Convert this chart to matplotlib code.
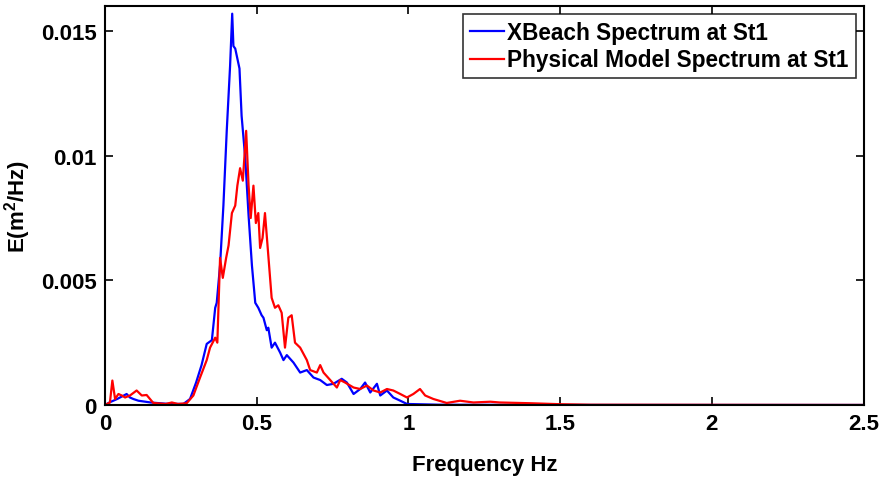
import numpy as np
import matplotlib
matplotlib.use("Agg")
import matplotlib.pyplot as plt
from matplotlib.ticker import FixedLocator, FixedFormatter

# XBeach spectrum at St1
f_xb = [0.000, 0.016, 0.040, 0.071, 0.082, 0.093, 0.110, 0.150, 0.200, 0.258,
        0.280, 0.300, 0.318, 0.335, 0.352, 0.363, 0.368, 0.379, 0.390, 0.401,
        0.412, 0.419, 0.423, 0.429, 0.443, 0.450, 0.462, 0.473, 0.484, 0.495,
        0.505, 0.516, 0.522, 0.533, 0.538, 0.549, 0.560, 0.577, 0.588, 0.599,
        0.621, 0.643, 0.665, 0.687, 0.709, 0.731, 0.753, 0.780, 0.797, 0.819,
        0.841, 0.857, 0.874, 0.896, 0.907, 0.929, 0.950, 0.973, 0.995, 1.100,
        1.500, 2.500]
E_xb = [0.0, 0.00011, 0.00024, 0.00044, 0.00030, 0.00024, 0.00017, 0.00010, 0.00005, 0.00004,
        0.00024, 0.00090, 0.00160, 0.00245, 0.00260, 0.00390, 0.00410, 0.00560, 0.00800, 0.01100,
        0.01360, 0.01570, 0.01440, 0.01430, 0.01350, 0.01160, 0.00990, 0.00760, 0.00560, 0.00410,
        0.00390, 0.00360, 0.00350, 0.00300, 0.00310, 0.00230, 0.00250, 0.00210, 0.00180, 0.00200,
        0.00170, 0.00130, 0.00140, 0.00110, 0.00100, 0.00080, 0.00085, 0.00105, 0.00090, 0.00044,
        0.00064, 0.00090, 0.00050, 0.00085, 0.00038, 0.00058, 0.00030, 0.00017, 0.00004, 0.00001,
        0.0, 0.0]

# Physical model spectrum at St1
f_pm = [0.000, 0.016, 0.024, 0.033, 0.044, 0.055, 0.066, 0.082, 0.104, 0.121,
        0.137, 0.148, 0.159, 0.200, 0.220, 0.240, 0.269, 0.291, 0.313, 0.335,
        0.346, 0.363, 0.370, 0.379, 0.388, 0.399, 0.407, 0.418, 0.429, 0.436,
        0.445, 0.454, 0.465, 0.473, 0.480, 0.489, 0.497, 0.505, 0.511, 0.519,
        0.527, 0.538, 0.549, 0.560, 0.571, 0.582, 0.593, 0.604, 0.615, 0.626,
        0.643, 0.665, 0.676, 0.698, 0.709, 0.720, 0.742, 0.764, 0.775, 0.791,
        0.819, 0.841, 0.863, 0.885, 0.907, 0.929, 0.950, 0.973, 0.995, 1.016,
        1.038, 1.055, 1.082, 1.126, 1.170, 1.214, 1.270, 1.300, 1.400, 1.500,
        1.600, 2.500]
E_pm = [0.0, 0.00010, 0.00098, 0.00024, 0.00044, 0.00038, 0.00030, 0.00038, 0.00058, 0.00038,
        0.00040, 0.00024, 0.00008, 0.00004, 0.00010, 0.00004, 0.00007, 0.00038, 0.00110, 0.00180,
        0.00230, 0.00270, 0.00250, 0.00590, 0.00510, 0.00590, 0.00640, 0.00770, 0.00800, 0.00880,
        0.00950, 0.00900, 0.01100, 0.00880, 0.00750, 0.00880, 0.00730, 0.00770, 0.00630, 0.00670,
        0.00770, 0.00600, 0.00430, 0.00390, 0.00400, 0.00370, 0.00230, 0.00350, 0.00360, 0.00250,
        0.00230, 0.00180, 0.00140, 0.00130, 0.00160, 0.00130, 0.00100, 0.00070, 0.00100, 0.00090,
        0.00070, 0.00064, 0.00078, 0.00058, 0.00050, 0.00064, 0.00058, 0.00044, 0.00030, 0.00044,
        0.00064, 0.00038, 0.00024, 0.00008, 0.00017, 0.00010, 0.00013, 0.00010, 0.00007, 0.00003,
        0.00001, 0.0]

xticks = [0, 0.5, 1, 1.5, 2, 2.5]
xtick_labels = ["0", "0.5", "1", "1.5", "2", "2.5"]
yticks = [0, 0.005, 0.01, 0.015]
ytick_labels = ["0", "0.005", "0.01", "0.015"]

plt.rcParams['font.family'] = ['Liberation Sans', 'DejaVu Sans']
plt.rcParams['font.weight'] = 'bold'
plt.rcParams['mathtext.fontset'] = 'custom'
plt.rcParams['mathtext.rm'] = 'Liberation Sans:bold'
plt.rcParams['mathtext.default'] = 'rm'

fig = plt.figure(figsize=(8.83, 4.81), dpi=100)
ax = fig.add_axes([0.119, 0.156, 0.859, 0.829])

ax.plot(f_xb, E_xb, color=(0, 0, 1), lw=1.6, label="XBeach Spectrum at St1")
ax.plot(f_pm, E_pm, color=(1, 0, 0), lw=1.6, label="Physical Model Spectrum at St1")

ax.set_xlim(0, 2.5)
ax.set_ylim(0, 0.016)
ax.xaxis.set_major_locator(FixedLocator(xticks))
ax.xaxis.set_major_formatter(FixedFormatter(xtick_labels))
ax.yaxis.set_major_locator(FixedLocator(yticks))
ax.yaxis.set_major_formatter(FixedFormatter(ytick_labels))
ax.tick_params(direction='in', top=True, right=True, length=6, width=1.2,
               labelsize=16, pad=6)
for s in ax.spines.values():
    s.set_linewidth(1.5)

ax.set_xlabel("Frequency Hz", fontsize=16, fontweight='bold', labelpad=14)
ax.set_ylabel(r"E(m$^2$/Hz)", fontsize=16, fontweight='bold', labelpad=6)

leg = ax.legend(loc='upper right', fontsize=16.3, frameon=True, fancybox=False,
                edgecolor='black', handlelength=1.5, handletextpad=0.15,
                borderpad=0.3, labelspacing=0.2, borderaxespad=0.35)
leg.get_frame().set_linewidth(1.2)
for t in leg.get_texts():
    t.set_fontweight('bold')

fig.savefig("out.png", dpi=100)
